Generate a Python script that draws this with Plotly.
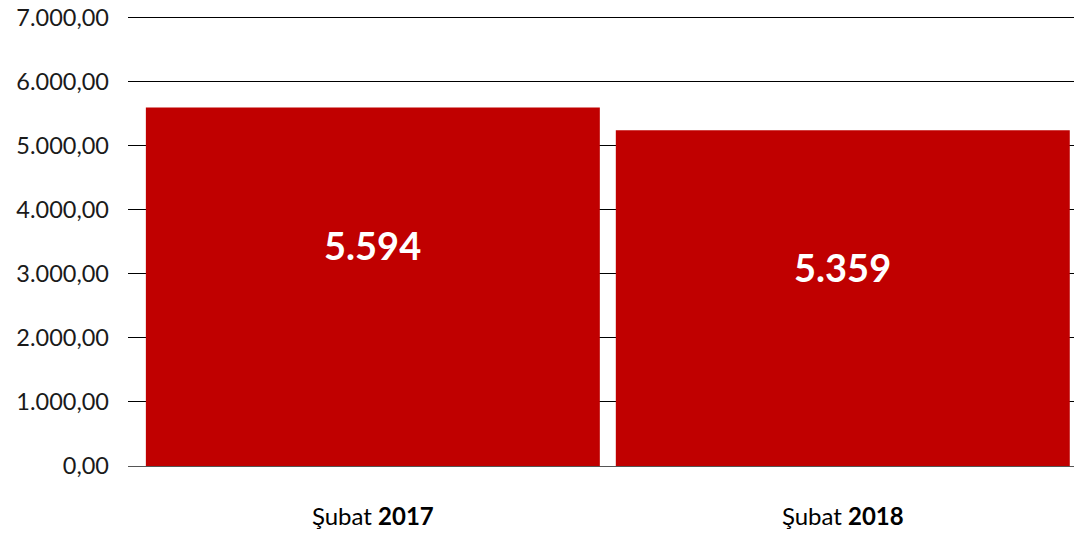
import plotly.graph_objects as go

categories = ["Şubat <b>2017</b>", "Şubat <b>2018</b>"]
values = [5594, 5240]
labels = ["5.594", "5.359"]
y_ticks = [0, 1000, 2000, 3000, 4000, 5000, 6000, 7000]

fig = go.Figure()
fig.add_trace(go.Bar(
    x=[0, 1], y=values, marker=dict(color="#C00000", line=dict(width=0)),
    hoverinfo="skip", showlegend=False,
))
for i, (v, t) in enumerate(zip(values, labels)):
    fig.add_annotation(x=i, y=v, yshift=-137, text=f"<b>{t}</b>", showarrow=False,
                       font=dict(family="Lato", size=38, color="white"))

fig.update_layout(
    width=1074, height=527,
    margin=dict(l=120, r=0, t=3, b=69),
    plot_bgcolor="white", paper_bgcolor="white",
    separators=",.",
    bargap=0.034,
    font=dict(family="Lato", size=20, color="#1a1a1a"),
)
fig.update_xaxes(
    tickmode="array", tickvals=[0, 1], ticktext=categories,
    range=[-0.521, 1.509], showgrid=False, zeroline=False, showline=False,
    ticks="", ticklabelstandoff=34, tickfont=dict(size=24, color="#000000"),
    automargin=False,
)
fig.update_yaxes(
    range=[0, 7100], tickvals=y_ticks, tickformat=",.2f",
    showgrid=True, gridcolor="#000000", gridwidth=1,
    zeroline=True, zerolinecolor="#555555", zerolinewidth=1,
    ticks="", ticklabelstandoff=18, tickfont=dict(size=23.5, color="#1a1a1a"),
    ticklabeloverflow="allow", automargin=False,
)
fig.write_html("out.html")
